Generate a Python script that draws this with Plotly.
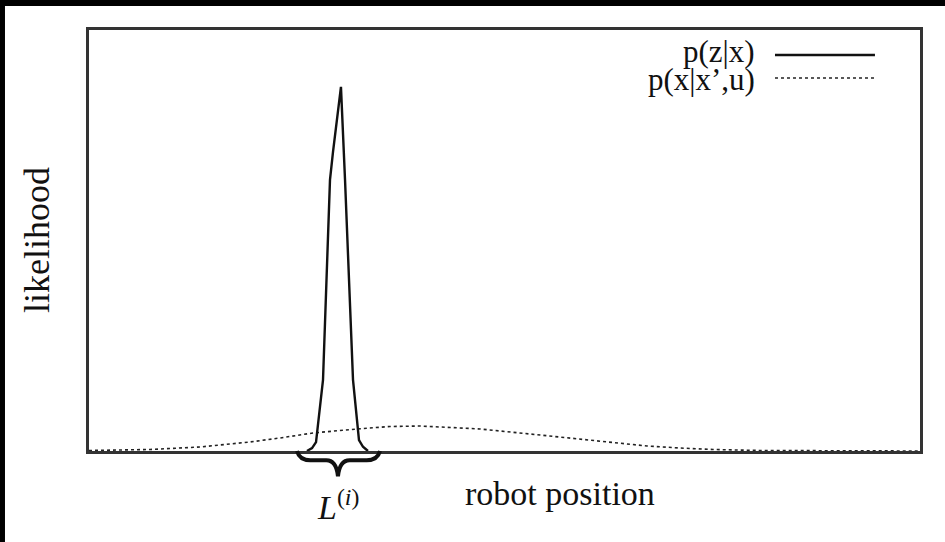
import plotly.graph_objects as go

# ---- data ----
# x: robot position (0..100 across the frame), y: likelihood (0 = baseline)
obs_x = [26.23, 26.84, 27.32, 28.16, 29.00, 29.36, 30.32, 30.81, 31.77, 32.49, 32.97, 33.57]
obs_y = [0.000, 0.007, 0.021, 0.169, 0.644, 0.710, 0.865, 0.644, 0.169, 0.026, 0.010, 0.000]

motion_x = [0, 7.34, 13.36, 19.37, 22.98, 26.95, 32.25, 36.22, 39.83, 43.08, 47.05,
            53.07, 59.09, 63.06, 67.15, 71.12, 75.09, 80.75, 87.97, 100]
motion_y = [0.0012, 0.0036, 0.0095, 0.0214, 0.0309, 0.0428, 0.0523, 0.0582, 0.0594, 0.0570,
            0.0523, 0.0404, 0.0285, 0.0190, 0.0119, 0.0071, 0.0036, 0.0012, 0.0005, 0.0]

series_names = ["p(z|x)", "p(x|x\u2019,u)"]
interval_L = [25.03, 29.96, 35.02]   # left end, tip, right end of the brace L^(i)

x_label = "robot position"
y_label = "likelihood"

FONT = "Liberation Serif, Times New Roman, serif"
INK = "#111111"

fig = go.Figure()
fig.add_trace(go.Scatter(x=motion_x, y=motion_y, mode="lines",
                         line=dict(color="#222222", width=1.6, dash="dot"),
                         name=series_names[1], showlegend=False))
fig.add_trace(go.Scatter(x=obs_x, y=obs_y, mode="lines",
                         line=dict(color=INK, width=2.4),
                         name=series_names[0], showlegend=False))

shapes = []
# black border bands of the original image
shapes.append(dict(type="rect", xref="paper", yref="paper", x0=-0.3, x1=1.3, y0=1.057, y1=1.3,
                   fillcolor="black", line=dict(width=0), layer="above"))
shapes.append(dict(type="rect", xref="paper", yref="paper", x0=-0.3, x1=-0.1011, y0=-0.5, y1=1.3,
                   fillcolor="black", line=dict(width=0), layer="above"))

# brace under the peak
x0, xm, x1 = interval_L
yd, yt = -0.022, -0.060
path = (f"M {x0},0 Q {x0+0.3},{yd} {x0+1.6},{yd} L {xm-1.4},{yd} "
        f"Q {xm-0.2},{yd} {xm},{yt} Q {xm+0.2},{yd} {xm+1.4},{yd} "
        f"L {x1-1.6},{yd} Q {x1-0.3},{yd} {x1},0")
shapes.append(dict(type="path", xref="x", yref="paper", path=path,
                   line=dict(color=INK, width=4)))

# legend samples
shapes.append(dict(type="line", xref="paper", yref="paper", x0=0.8255, x1=0.9458,
                   y0=0.9406, y1=0.9406, line=dict(color=INK, width=2.4)))
shapes.append(dict(type="line", xref="paper", yref="paper", x0=0.8255, x1=0.9458,
                   y0=0.886, y1=0.886, line=dict(color="#222222", width=1.6, dash="dot")))

annotations = [
    dict(text=series_names[0], xref="paper", yref="paper", x=0.8039, y=0.948,
         xanchor="right", yanchor="middle", showarrow=False,
         font=dict(family=FONT, size=31, color=INK)),
    dict(text=series_names[1], xref="paper", yref="paper", x=0.8039, y=0.883,
         xanchor="right", yanchor="middle", showarrow=False,
         font=dict(family=FONT, size=31, color=INK)),
    dict(text=x_label, xref="paper", yref="paper", x=0.567, y=-0.0998,
         xanchor="center", yanchor="middle", showarrow=False,
         font=dict(family=FONT, size=34, color=INK)),
    dict(text=y_label, xref="paper", yref="paper", x=-0.0626, y=0.501, textangle=-90,
         xanchor="center", yanchor="middle", showarrow=False,
         font=dict(family=FONT, size=36, color=INK)),
    dict(text="<i>L</i><sup>(<i>i</i>)</sup>", xref="x", yref="paper", x=interval_L[1], y=-0.128,
         xanchor="center", yanchor="middle", showarrow=False,
         font=dict(family=FONT, size=34, color=INK)),
]

fig.update_layout(
    width=945, height=542,
    margin=dict(l=89, r=25, t=30, b=91),
    paper_bgcolor="white", plot_bgcolor="white",
    shapes=shapes, annotations=annotations, showlegend=False,
    xaxis=dict(range=[0, 100], showline=True, mirror=True, linecolor="#333333", linewidth=2.5,
               showticklabels=False, ticks="", showgrid=False, zeroline=False, fixedrange=True),
    yaxis=dict(range=[0, 1], showline=True, mirror=True, linecolor="#333333", linewidth=2.5,
               showticklabels=False, ticks="", showgrid=False, zeroline=False, fixedrange=True),
)

fig.write_html("out.html", config={"displayModeBar": False},
               post_script="document.body.style.margin='0';document.body.style.padding='0';")
